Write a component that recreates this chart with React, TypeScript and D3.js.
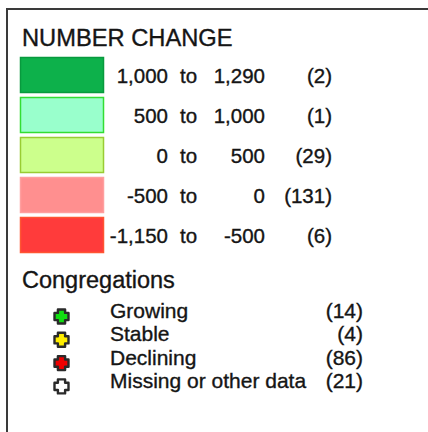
import React, { useEffect, useRef } from "react";
import * as d3 from "d3";

// number change classes
const rangeLows = ["1,000", "500", "0", "-500", "-1,150"];
const rangeHighs = ["1,290", "1,000", "500", "0", "-500"];
const rangeCounts = [2, 1, 29, 131, 6];
const rangeFills = ["#0db14b", "#99ffcc", "#ccff8c", "#ff8f8f", "#ff3b3b"];
const rangeStrokes = ["#089a3e", "#33dd33", "#99cc33", "#ff9f9f", "#ff5533"];

// congregation markers
const congLabels = ["Growing", "Stable", "Declining", "Missing or other data"];
const congCounts = [14, 4, 86, 21];
const congFills = ["#11dd11", "#ffee00", "#ee0000", "#ffffff"];

const FONT = "'Liberation Sans', Arial, sans-serif";

// chunky plus marker, half-size h, half arm thickness a
const crossPath = (h: number, a: number) => {
	const p = d3.path();
	p.moveTo(-a, -h);
	p.lineTo(a, -h);
	p.lineTo(a, -a);
	p.lineTo(h, -a);
	p.lineTo(h, a);
	p.lineTo(a, a);
	p.lineTo(a, h);
	p.lineTo(-a, h);
	p.lineTo(-a, a);
	p.lineTo(-h, a);
	p.lineTo(-h, -a);
	p.lineTo(-a, -a);
	p.closePath();
	return p.toString();
};

const App: React.FC = () => {
	const ref = useRef<SVGSVGElement | null>(null);

	useEffect(() => {
		if (!ref.current) return;
		const width = 428;
		const height = 432;
		const svg = d3.select(ref.current);

		// frame
		svg.append("path")
			.attr("d", `M7,${height + 5} L7,9 L${width + 5},9`)
			.attr("fill", "none")
			.attr("stroke", "#3a3a3a")
			.attr("stroke-width", 2);

		const label = (sel: any, size: number) =>
			sel
				.append("text")
				.attr("font-family", FONT)
				.attr("font-size", size)
				.attr("fill", "#151515")
				.attr("stroke", "#151515")
				.attr("stroke-width", 0.35);

		label(svg, 23.7).attr("x", 22).attr("y", 46).text("NUMBER CHANGE");

		const y = d3
			.scaleLinear()
			.domain([0, rangeLows.length])
			.range([57.5, 57.5 + 40 * rangeLows.length]);

		const rows = svg
			.selectAll(".row")
			.data(rangeLows.map((d, i) => i))
			.enter()
			.append("g")
			.attr("class", "row")
			.attr("transform", (i) => `translate(0,${y(i)})`);

		rows.append("rect")
			.attr("x", 20.5)
			.attr("y", 0)
			.attr("width", 83)
			.attr("height", 35)
			.attr("fill", (i) => rangeFills[i])
			.attr("stroke", (i) => rangeStrokes[i])
			.attr("stroke-width", 1.5);

		const txt = (sel: any) => label(sel, 20.5).attr("y", 25);

		txt(rows).attr("x", 168).attr("text-anchor", "end").text((i: number) => rangeLows[i]);
		txt(rows).attr("x", 180).text("to");
		txt(rows).attr("x", 265).attr("text-anchor", "end").text((i: number) => rangeHighs[i]);
		txt(rows).attr("x", 332).attr("text-anchor", "end").text((i: number) => `(${rangeCounts[i]})`);

		label(svg, 23.5).attr("x", 22).attr("y", 288).text("Congregations");

		const cy = d3
			.scaleLinear()
			.domain([0, congLabels.length])
			.range([316, 316 + 23.3 * congLabels.length]);

		const items = svg
			.selectAll(".item")
			.data(congLabels.map((d, i) => i))
			.enter()
			.append("g")
			.attr("class", "item")
			.attr("transform", (i) => `translate(0,${cy(i)})`);

		items.append("path")
			.attr("transform", "translate(61.5,0.5)")
			.attr("d", crossPath(7, 3.6))
			.attr("fill", (i) => congFills[i])
			.attr("stroke", "#2a2a2a")
			.attr("stroke-width", 2.4)
			.attr("stroke-linejoin", "round");

		label(items, 21).attr("x", 110).attr("y", 2).text((i: number) => congLabels[i]);

		label(items, 21)
			.attr("x", 363)
			.attr("y", 2)
			.attr("text-anchor", "end")
			.text((i: number) => `(${congCounts[i]})`);

		return () => {
			svg.selectAll("*").remove();
		};
	}, []);

	return (
		<svg
			ref={ref}
			width={428}
			height={432}
			style={{ position: "absolute", left: 0, top: 0, background: "#fff" }}
		/>
	);
};

export default App;
